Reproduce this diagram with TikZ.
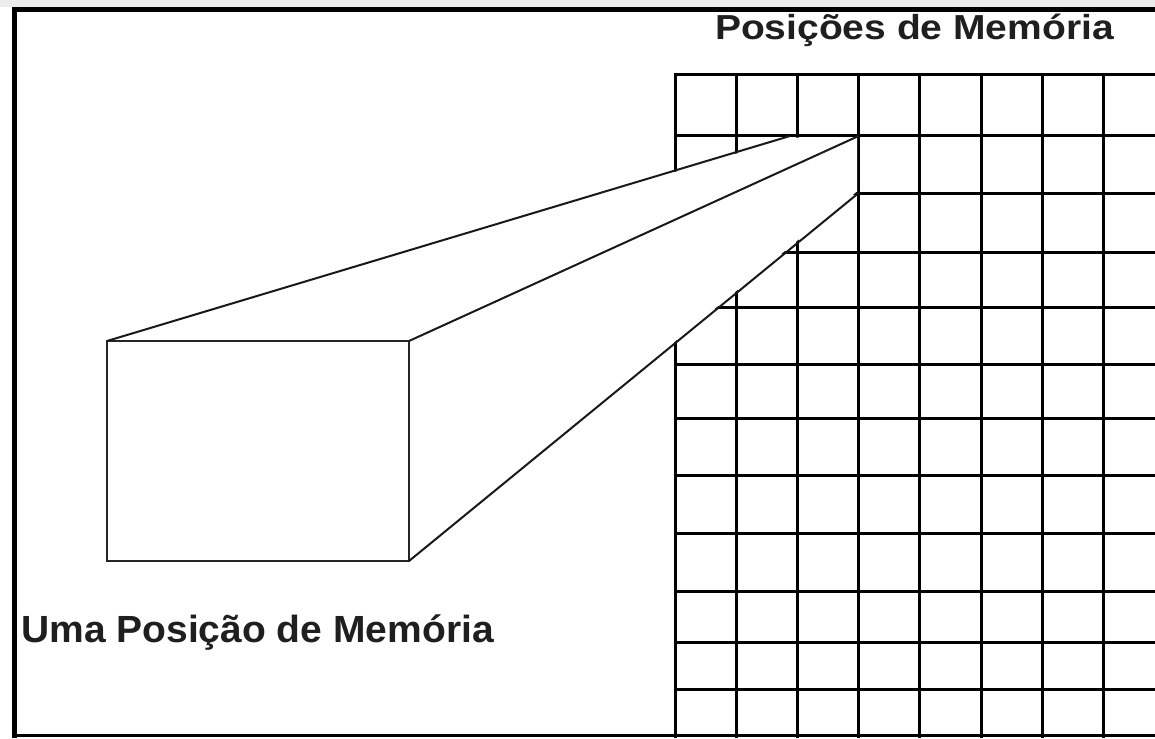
\documentclass[tikz,border=0pt]{standalone}
\usepackage{fontspec}
\setmainfont{Liberation Sans}
\begin{document}
\begin{tikzpicture}[x=1pt,y=-1pt,
  gridln/.style={line width=3pt, black},
  frameln/.style={line width=5pt, black},
  edgeln/.style={line width=2pt, black!90},
  boxln/.style={line width=2.6pt, black!85},
  lbl/.style={font=\bfseries\fontsize{39}{39}\selectfont, text=black!88, inner sep=0pt, anchor=base}]
\useasboundingbox (0,0) rectangle (1155,738);
\fill[gray!15] (0,0) rectangle (1155,7);
\fill[white] (0,7) rectangle (1155,738);
% frame
\draw[frameln] (14.5,9.5) -- (1155,9.5);
\draw[frameln] (14.5,7) -- (14.5,738);
\draw[line width=3pt] (12,735.5) -- (1155,735.5);
% grid of memory positions
\foreach \x in {675,736.2,797.4,858.6,919.8,981,1042.2,1103.4}
  \draw[gridln] (\x,73.5) -- (\x,738);
\foreach \y in {75,136,193,252,307,364,418,475,533,591,642,689}
  \draw[gridln] (673.5,\y) -- (1155,\y);
% corners of the magnified memory position
\coordinate (c1) at (790,136);
\coordinate (c2) at (858.6,136);
\coordinate (c3) at (858.6,193);
% wedge hides the grid behind it
\fill[white] (107,341) -- (790,137.6) -- (857,137.6) -- (857,191.4) -- (409,561) -- (107,561) -- cycle;
% one memory position (box)
\node[draw, boxln, fill=white, minimum width=302pt, minimum height=220pt, inner sep=0pt, outer sep=0pt, anchor=north west] (box) at (107,341) {};
\draw[edgeln] (box.north west) -- (c1);
\draw[edgeln] (box.north east) -- (c2);
\draw[edgeln] (box.south east) -- (c3);
% labels
\node[lbl] (title) at (914.5,40) {\scalebox{1}[0.89]{Posições de Memória}};
\node[lbl] (caption) at (257.5,642) {\scalebox{1}[0.97]{Uma Posição de Memória}};
\end{tikzpicture}
\end{document}
